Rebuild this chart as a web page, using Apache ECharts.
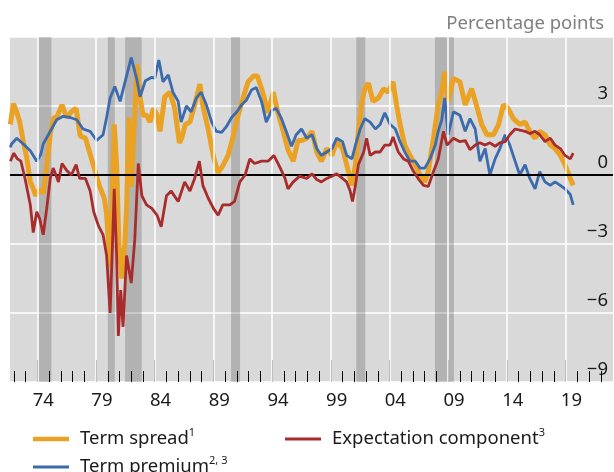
<!DOCTYPE html>
<html>
<head>
<meta charset="utf-8">
<script src="https://cdn.jsdelivr.net/npm/echarts@6/dist/echarts.min.js"></script>
<style>
  html, body { margin: 0; padding: 0; background: #fff; }
  #main { width: 614px; height: 472px; }
</style>
</head>
<body>
<div id="main"></div>
<script>
// [year, percentage points]
var termSpread = [
  [1971.7, 2.2], [1971.95, 3.1], [1972.2, 2.8], [1972.5, 2.3], [1972.9, 1.2], [1973.1, 0.75],
  [1973.4, -0.3], [1973.65, -0.6], [1973.85, -0.9], [1974.2, -0.6], [1974.5, -0.8], [1974.75, 0.1],
  [1975.1, 1.8], [1975.4, 2.5], [1975.65, 2.5], [1976.1, 3.05], [1976.5, 2.5], [1976.9, 2.75],
  [1977.3, 2.9], [1977.65, 1.7], [1978.1, 1.6], [1978.5, 0.9], [1978.9, 0.2], [1979.3, -0.5],
  [1979.7, -1.0], [1979.9, -1.7], [1980.2, -4.0], [1980.35, -1.5], [1980.55, 2.2], [1980.75, 0.5],
  [1980.95, -3.0], [1981.2, -4.5], [1981.45, -3.0], [1981.6, -1.5], [1981.8, 2.5], [1982.0, -0.5],
  [1982.2, 1.5], [1982.5, 4.8], [1982.75, 3.4], [1983.0, 2.6], [1983.3, 2.6], [1983.6, 2.3],
  [1983.9, 2.9], [1984.2, 2.6], [1984.45, 1.9], [1984.85, 3.4], [1985.3, 3.6], [1985.7, 2.9],
  [1986.1, 1.4], [1986.3, 1.6], [1986.6, 2.2], [1987.0, 2.3], [1987.4, 3.05], [1987.85, 3.95],
  [1988.1, 3.0], [1988.55, 2.0], [1989.0, 0.8], [1989.4, 0.1], [1989.8, 0.4], [1990.25, 0.85],
  [1990.65, 1.6], [1991.1, 2.6], [1991.5, 3.3], [1991.95, 4.05], [1992.4, 4.3], [1992.75, 4.3],
  [1993.2, 3.6], [1993.65, 2.7], [1994.1, 3.6], [1994.5, 2.7], [1994.95, 1.9], [1995.35, 1.1],
  [1995.8, 0.6], [1996.2, 1.5], [1996.55, 1.5], [1996.95, 1.6], [1997.4, 1.9], [1997.8, 1.0],
  [1998.2, 0.6], [1998.65, 1.15], [1999.1, 0.85], [1999.5, 1.45], [2000.0, 1.15], [2000.35, 0.45],
  [2000.8, -0.45], [2001.1, 0.45], [2001.35, 1.9], [2001.65, 3.2], [2001.9, 3.75], [2002.2, 4.0],
  [2002.6, 3.2], [2003.05, 3.35], [2003.5, 3.75], [2003.9, 3.6], [2004.3, 4.05], [2004.6, 3.05],
  [2004.9, 2.2], [2005.3, 1.3], [2005.75, 0.85], [2006.2, 0.45], [2006.6, 0.0], [2007.0, -0.3],
  [2007.3, 0.15], [2007.75, 1.6], [2008.15, 3.05], [2008.45, 3.6], [2008.7, 4.5], [2009.0, 3.2],
  [2009.45, 4.2], [2010.0, 4.05], [2010.45, 3.05], [2011.0, 3.75], [2011.4, 3.05], [2011.85, 2.2],
  [2012.3, 1.75], [2012.85, 1.75], [2013.3, 2.2], [2013.7, 3.05], [2014.1, 2.9], [2014.55, 2.45],
  [2015.1, 2.2], [2015.55, 2.3], [2015.95, 1.9], [2016.4, 1.6], [2016.8, 1.9], [2017.25, 1.75],
  [2017.7, 1.3], [2018.1, 1.15], [2018.55, 0.85], [2018.95, 0.45], [2019.4, -0.15], [2019.65, -0.45]
];

var termPremium = [
  [1971.7, 1.2], [1971.8, 1.35], [1972.25, 1.6], [1972.8, 1.35], [1973.4, 1.05], [1973.95, 0.6],
  [1974.3, 0.9], [1974.5, 1.35], [1975.1, 1.9], [1975.65, 2.4], [1976.2, 2.55], [1976.8, 2.5],
  [1977.35, 2.4], [1977.9, 2.0], [1978.5, 1.9], [1979.05, 1.5], [1979.6, 1.75], [1979.9, 2.5],
  [1980.2, 3.35], [1980.6, 3.85], [1981.05, 3.2], [1981.5, 4.1], [1982.0, 5.1], [1982.5, 4.1],
  [1982.75, 3.4], [1983.2, 4.1], [1983.75, 4.25], [1984.0, 4.2], [1984.35, 5.0], [1984.7, 4.05],
  [1985.15, 4.35], [1985.55, 3.6], [1986.0, 3.2], [1986.25, 2.3], [1986.7, 3.0], [1987.1, 2.75],
  [1987.55, 3.35], [1987.95, 3.6], [1988.4, 3.05], [1988.85, 2.3], [1989.25, 1.9], [1989.7, 1.85],
  [1990.1, 2.1], [1990.55, 2.5], [1991.0, 2.75], [1991.4, 3.05], [1991.8, 3.25], [1992.25, 3.7],
  [1992.65, 3.8], [1993.1, 3.2], [1993.5, 2.3], [1993.95, 2.8], [1994.35, 2.9], [1994.8, 2.45],
  [1995.2, 1.9], [1995.65, 1.25], [1996.05, 1.75], [1996.5, 2.0], [1996.95, 1.6], [1997.4, 1.75],
  [1997.8, 1.15], [1998.2, 0.85], [1998.65, 1.0], [1999.1, 1.15], [1999.5, 1.6], [2000.0, 1.45],
  [2000.35, 0.85], [2000.8, 0.7], [2001.1, 1.3], [2001.5, 2.0], [2001.9, 2.45], [2002.35, 2.3],
  [2002.8, 2.0], [2003.2, 2.2], [2003.6, 2.7], [2004.05, 2.2], [2004.5, 2.0], [2004.9, 1.45],
  [2005.3, 1.0], [2005.75, 0.6], [2006.2, 0.6], [2006.6, 0.3], [2007.0, 0.3], [2007.45, 0.7],
  [2007.9, 1.3], [2008.15, 1.9], [2008.45, 2.4], [2008.7, 3.35], [2009.0, 1.75], [2009.45, 2.75],
  [2010.0, 2.6], [2010.45, 1.9], [2010.85, 2.45], [2011.3, 2.0], [2011.7, 0.6], [2012.15, 1.15],
  [2012.55, 0.0], [2013.0, 0.7], [2013.4, 1.15], [2013.85, 1.75], [2014.25, 1.3], [2014.7, 0.6],
  [2015.1, 0.0], [2015.55, 0.45], [2015.95, -0.15], [2016.4, -0.6], [2016.8, 0.15], [2017.25, -0.3],
  [2017.7, -0.45], [2018.1, -0.3], [2018.55, -0.45], [2018.95, -0.6], [2019.4, -0.85], [2019.65, -1.3]
];

var expectation = [
  [1971.7, 0.6], [1972.0, 0.95], [1972.3, 0.7], [1972.6, 0.6], [1972.95, -0.15], [1973.4, -1.3],
  [1973.65, -2.5], [1973.95, -1.6], [1974.2, -1.9], [1974.5, -2.6], [1974.8, -1.45], [1975.1, -0.15],
  [1975.35, 0.3], [1975.8, -0.3], [1976.1, 0.5], [1976.5, 0.2], [1976.9, 0.0], [1977.3, 0.45],
  [1977.6, -0.15], [1978.1, -0.15], [1978.5, -0.7], [1978.8, -1.6], [1979.2, -2.2], [1979.6, -2.6],
  [1979.9, -3.5], [1980.2, -6.0], [1980.4, -3.0], [1980.55, -0.6], [1980.75, -3.5], [1980.9, -7.0],
  [1981.1, -5.0], [1981.3, -6.6], [1981.6, -3.5], [1982.0, -4.7], [1982.3, -2.8], [1982.6, 0.5],
  [1982.9, -0.9], [1983.3, -1.3], [1983.75, -1.45], [1984.2, -1.75], [1984.55, -2.25], [1985.0, -0.9],
  [1985.4, -0.7], [1986.0, -1.15], [1986.55, -0.3], [1987.0, -0.7], [1987.4, -0.15], [1987.8, 0.6],
  [1988.1, -0.45], [1988.55, -1.0], [1989.0, -1.45], [1989.4, -1.75], [1989.8, -1.3], [1990.4, -1.3],
  [1990.8, -1.15], [1991.25, -0.3], [1991.7, 0.0], [1992.1, 0.7], [1992.5, 0.5], [1993.1, 0.6],
  [1993.65, 0.6], [1994.15, 0.85], [1994.65, 0.35], [1995.1, -0.15], [1995.35, -0.6], [1995.8, -0.3],
  [1996.35, -0.05], [1996.95, -0.15], [1997.4, 0.05], [1997.8, -0.2], [1998.2, -0.3], [1998.65, -0.15],
  [1999.1, -0.05], [1999.5, 0.05], [2000.0, -0.15], [2000.35, -0.3], [2000.65, -0.7], [2000.85, -1.15],
  [2001.1, -0.45], [2001.35, 0.45], [2001.8, 1.0], [2002.05, 1.6], [2002.35, 0.85], [2002.8, 1.0],
  [2003.2, 1.0], [2003.6, 1.3], [2004.05, 1.3], [2004.3, 1.65], [2004.75, 1.0], [2005.2, 0.7],
  [2005.6, 0.6], [2006.05, 0.15], [2006.5, -0.2], [2006.9, -0.45], [2007.3, -0.5], [2007.75, 0.15],
  [2008.15, 0.7], [2008.6, 1.9], [2008.9, 1.3], [2009.45, 1.6], [2010.0, 1.45], [2010.45, 1.5],
  [2010.85, 1.1], [2011.3, 1.3], [2011.7, 1.4], [2012.15, 1.3], [2012.55, 1.4], [2013.0, 1.25],
  [2013.4, 1.4], [2013.85, 1.45], [2014.25, 1.75], [2014.7, 2.0], [2015.1, 1.95], [2015.55, 1.9],
  [2015.95, 1.8], [2016.4, 1.9], [2016.8, 1.75], [2017.25, 1.45], [2017.7, 1.6], [2018.1, 1.3],
  [2018.55, 1.15], [2018.95, 0.85], [2019.4, 0.7], [2019.65, 0.95]
];

// recession periods (shaded)
var recessions = [
  [1974.08, 1975.2], [1980.0, 1980.6], [1981.47, 1982.89],
  [1990.5, 1991.27], [2001.17, 2001.94], [2007.87, 2009.49]
];

var majorYears = [1974, 1979, 1984, 1989, 1994, 1999, 2004, 2009, 2014, 2019];
var minorYears = [];
for (var y = 1972; y <= 2022; y++) minorYears.push(y);
var labelYears = majorYears.map(function (v) { return v + 0.5; });

var xMin = 1971.67, xMax = 2023.04;
var FONT = '"Noto Sans", sans-serif';
var sup = { 'Term spread': '1', 'Expectation component': '3', 'Term premium': '2, 3' };

var chart = echarts.init(document.getElementById('main'));

function legendFor(name, left, top, h) {
  return {
    data: [name], left: left, top: top, icon: 'rect',
    itemWidth: 36, itemHeight: h, selectedMode: false,
    formatter: function (n) { return '{n|' + n + '}{s|' + sup[n] + '}'; },
    textStyle: {
      fontFamily: FONT, color: '#1a1a1a',
      rich: {
        n: { fontSize: 18.5, fontFamily: FONT, color: '#1a1a1a', padding: [0, 0, 0, 6], lineHeight: 24 },
        s: { fontSize: 11, fontFamily: FONT, color: '#1a1a1a', verticalAlign: 'top', lineHeight: 24 }
      }
    }
  };
}

var option = {
  animation: false,
  backgroundColor: '#fff',
  title: {
    text: 'Percentage points', right: 5, top: 9,
    textStyle: { fontFamily: FONT, fontSize: 18.5, fontWeight: 'normal', color: '#7f7f7f' }
  },
  legend: [
    legendFor('Term spread', 28, 422, 4.5),
    legendFor('Expectation component', 280, 422, 3),
    legendFor('Term premium', 28, 450, 3)
  ],
  grid: { left: 10, right: 1, top: 37, bottom: 90, show: true, backgroundColor: '#d9d9d9', borderWidth: 0 },
  xAxis: [
    { type: 'value', min: xMin, max: xMax, axisLine: { show: false }, axisTick: { show: false },
      axisLabel: { show: false }, splitLine: { show: false } },
    { type: 'value', min: xMin, max: xMax, position: 'bottom', axisLine: { show: false },
      axisTick: { show: true, inside: true, length: 22, customValues: majorYears, lineStyle: { color: '#000', width: 1 } },
      axisLabel: { show: true, margin: 9, customValues: labelYears, fontFamily: FONT, fontSize: 18.5, color: '#1a1a1a',
        formatter: function (v) { var s = String(Math.floor(v) % 100); return s.length < 2 ? '0' + s : s; } },
      splitLine: { show: false } },
    { type: 'value', min: xMin, max: xMax, position: 'bottom', axisLine: { show: false },
      axisTick: { show: true, inside: true, length: 11, customValues: minorYears, lineStyle: { color: '#000', width: 1 } },
      axisLabel: { show: false }, splitLine: { show: false } }
  ],
  yAxis: {
    type: 'value', position: 'right', min: -9, max: 6, interval: 3,
    axisLine: { show: false }, axisTick: { show: false },
    splitLine: { show: true, lineStyle: { color: '#fff', width: 1.5 } },
    axisLabel: {
      inside: true, margin: 5, align: 'right', verticalAlign: 'bottom', padding: [0, 0, 3, 0],
      fontFamily: FONT, fontSize: 18.5, color: '#1a1a1a',
      formatter: function (v) { if (v === 6) return ''; return v < 0 ? '\u2212' + Math.abs(v) : String(v); }
    }
  },
  series: [
    { type: 'line', data: [], z: 1, silent: true,
      markLine: { silent: true, symbol: 'none', label: { show: false },
        lineStyle: { color: '#fff', width: 1.5, type: 'solid' },
        data: majorYears.map(function (v) { return { xAxis: v }; }) } },
    { type: 'line', data: [], z: 2, silent: true,
      markArea: { silent: true, itemStyle: { color: 'rgba(0,0,0,0.175)' },
        data: recessions.map(function (r) { return [{ xAxis: r[0] }, { xAxis: r[1] }]; }) } },
    { type: 'line', data: [], z: 2, silent: true,
      markLine: { silent: true, symbol: 'none', label: { show: false },
        lineStyle: { color: '#000', width: 2, type: 'solid' }, data: [{ yAxis: 0 }] } },
    { name: 'Term spread', type: 'line', data: termSpread, showSymbol: false, z: 3,
      color: '#eaa225', lineStyle: { width: 5, color: '#eaa225' } },
    { name: 'Term premium', type: 'line', data: termPremium, showSymbol: false, z: 4,
      color: '#3b6aad', lineStyle: { width: 2.8, color: '#3b6aad' } },
    { name: 'Expectation component', type: 'line', data: expectation, showSymbol: false, z: 5,
      color: '#a82c2c', lineStyle: { width: 2.8, color: '#a82c2c' } }
  ]
};
chart.setOption(option);
</script>
</body>
</html>
